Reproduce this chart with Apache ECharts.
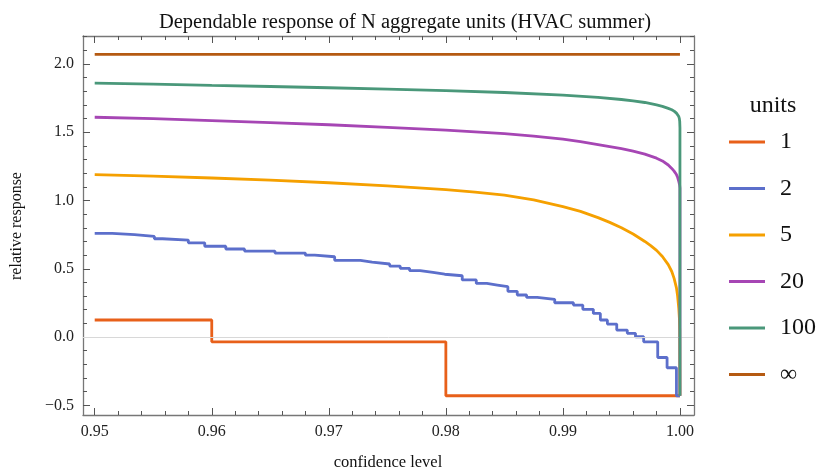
<!DOCTYPE html>
<html><head><meta charset="utf-8">
<script src="https://cdn.jsdelivr.net/npm/echarts@6/dist/echarts.min.js"></script>
<style>html,body{margin:0;padding:0;background:#fff}#c{width:820px;height:473px}</style>
</head><body><div id="c"></div>
<script>
const seriesNames = ['1', '2', '5', '20', '100', '∞'];
const seriesColors = ['#E8601A', '#5C6FCB', '#F5A000', '#A646B4', '#4A987A', '#B55A12'];

const unit1X = [0.95, 0.96, 0.98, 1.0];
const unit1Y = [0.125, -0.035, -0.43, -0.43];

const unit2X = [0.95, 0.9515, 0.9534, 0.9551, 0.9558, 0.958, 0.9594, 0.9612, 0.9628, 0.9654, 0.968, 0.9688, 0.9705, 0.9727, 0.9737, 0.9752, 0.9761, 0.9769, 0.9778, 0.9789, 0.9799, 0.9814, 0.9826, 0.9835, 0.9844, 0.9853, 0.9861, 0.9869, 0.9878, 0.9893, 0.9909, 0.9917, 0.9926, 0.9932, 0.9938, 0.9946, 0.9955, 0.9962, 0.9969, 0.9981, 0.9989, 0.9997, 1.0];
const unit2Y = [0.76, 0.75, 0.737, 0.72, 0.71, 0.69, 0.665, 0.645, 0.63, 0.615, 0.60, 0.588, 0.562, 0.548, 0.535, 0.52, 0.503, 0.487, 0.474, 0.46, 0.449, 0.418, 0.393, 0.381, 0.369, 0.335, 0.308, 0.29, 0.276, 0.251, 0.234, 0.203, 0.173, 0.125, 0.095, 0.051, 0.027, 0.002, -0.035, -0.15, -0.225, -0.43, -0.43];

const unit5X = [0.95, 0.955, 0.96, 0.965, 0.97, 0.975, 0.98, 0.9825, 0.985, 0.9875, 0.99, 0.9915, 0.993, 0.994, 0.995, 0.996, 0.997, 0.9975, 0.998, 0.9985, 0.999, 0.9993, 0.9995, 0.9997, 0.9998, 0.9999, 0.99995, 0.99998, 1.0];
const unit5Y = [1.19, 1.178, 1.165, 1.15, 1.13, 1.107, 1.08, 1.062, 1.04, 1.005, 0.955, 0.92, 0.875, 0.84, 0.80, 0.755, 0.70, 0.67, 0.635, 0.59, 0.53, 0.48, 0.43, 0.36, 0.30, 0.21, 0.14, 0.05, -0.43];

const unit20X = [0.95, 0.955, 0.96, 0.965, 0.97, 0.975, 0.98, 0.985, 0.9875, 0.99, 0.9915, 0.993, 0.994, 0.995, 0.996, 0.997, 0.998, 0.9985, 0.999, 0.9993, 0.9995, 0.9997, 0.9998, 0.9999, 0.99997, 1.0, 1.0];
const unit20Y = [1.61, 1.60, 1.585, 1.57, 1.555, 1.535, 1.515, 1.49, 1.472, 1.45, 1.432, 1.41, 1.395, 1.38, 1.362, 1.34, 1.31, 1.29, 1.26, 1.235, 1.215, 1.19, 1.17, 1.14, 1.115, 1.09, -0.43];

const unit100X = [0.95, 0.955, 0.96, 0.965, 0.97, 0.975, 0.98, 0.985, 0.99, 0.993, 0.995, 0.996, 0.997, 0.998, 0.9985, 0.999, 0.9993, 0.9995, 0.9997, 0.9998, 0.9999, 0.99995, 0.99998, 1.0, 1.0];
const unit100Y = [1.86, 1.852, 1.843, 1.835, 1.826, 1.816, 1.805, 1.791, 1.772, 1.755, 1.74, 1.73, 1.718, 1.70, 1.69, 1.675, 1.665, 1.655, 1.64, 1.63, 1.615, 1.60, 1.58, 1.53, -0.43];

const unitInfX = [0.95, 1.0];
const unitInfY = [2.07, 2.07];

const xMajorTicks = [0.95, 0.96, 0.97, 0.98, 0.99, 1.00];
const xMinorTicks = [0.952, 0.954, 0.956, 0.958, 0.962, 0.964, 0.966, 0.968, 0.972, 0.974, 0.976, 0.978, 0.982, 0.984, 0.986, 0.988, 0.992, 0.994, 0.996, 0.998];
const yMajorTicks = [-0.5, 0.0, 0.5, 1.0, 1.5, 2.0];
const yMinorTicks = [-0.4, -0.3, -0.2, -0.1, 0.1, 0.2, 0.3, 0.4, 0.6, 0.7, 0.8, 0.9, 1.1, 1.2, 1.3, 1.4, 1.6, 1.7, 1.8, 1.9, 2.1, 2.2];

const X_MIN = 0.949, X_MAX = 1.0012, Y_MIN = -0.571, Y_MAX = 2.205;
const SERIF = '"Liberation Serif", "DejaVu Serif", serif';
const FRAME = '#777777', TICK = '#555555';

function pairs(xs, ys) { return xs.map((x, i) => [x, ys[i]]); }

function xAx(pos, ticks, len, label, line) {
  return {
    type: 'value', position: pos, offset: 0, min: X_MIN, max: X_MAX,
    axisLine: { show: line, onZero: false, lineStyle: { color: FRAME, width: 1.3 } },
    axisTick: { show: true, inside: true, length: len, customValues: ticks, lineStyle: { color: TICK, width: 1 } },
    axisLabel: label ? { show: true, customValues: ticks, formatter: v => v.toFixed(2), fontFamily: SERIF, fontSize: 16, color: '#222', margin: 9 } : { show: false },
    splitLine: { show: false }
  };
}
function yAx(pos, ticks, len, label, line) {
  return {
    type: 'value', position: pos, offset: 0, min: Y_MIN, max: Y_MAX,
    axisLine: { show: line, onZero: false, lineStyle: { color: FRAME, width: 1.3 } },
    axisTick: { show: true, inside: true, length: len, customValues: ticks, lineStyle: { color: TICK, width: 1 } },
    axisLabel: label ? { show: true, customValues: ticks, formatter: v => (v < 0 ? '\u2212' + Math.abs(v).toFixed(1) : v.toFixed(1)), fontFamily: SERIF, fontSize: 16, color: '#222', margin: 9 } : { show: false },
    splitLine: { show: false }
  };
}

const dataSets = [pairs(unit1X, unit1Y), pairs(unit2X, unit2Y), pairs(unit5X, unit5Y), pairs(unit20X, unit20Y), pairs(unit100X, unit100Y), pairs(unitInfX, unitInfY)];

const series = [{
  type: 'line', name: '_zero', data: [], z: 1, silent: true,
  markLine: { silent: true, symbol: 'none', label: { show: false }, lineStyle: { color: '#d8d8d8', width: 1, type: 'solid' }, data: [{ yAxis: 0 }] }
}];
seriesNames.forEach((n, i) => {
  series.push({
    type: 'line', name: n, data: dataSets[i], showSymbol: false, symbol: 'none',
    step: i <= 1 ? 'end' : false, z: 2 + i,
    lineStyle: { color: seriesColors[i], width: 2.8 }, itemStyle: { color: seriesColors[i] },
    animation: false
  });
});

const chart = echarts.init(document.getElementById('c'), null, { renderer: 'canvas' });
chart.setOption({
  animation: false,
  backgroundColor: '#fff',
  title: {
    text: 'Dependable response of N aggregate units (HVAC summer)', left: 400, top: 7, textAlign: 'center',
    textStyle: { fontFamily: SERIF, fontSize: 20.5, fontWeight: 'normal', color: '#111' }
  },
  grid: { left: 83, right: 126, top: 36, bottom: 58, containLabel: false },
  xAxis: [xAx('bottom', xMajorTicks, 7, true, true), xAx('bottom', xMinorTicks, 4, false, false), xAx('top', xMajorTicks, 7, false, true), xAx('top', xMinorTicks, 4, false, false)],
  yAxis: [yAx('left', yMajorTicks, 7, true, true), yAx('left', yMinorTicks, 4, false, false), yAx('right', yMajorTicks, 7, false, true), yAx('right', yMinorTicks, 4, false, false)],
  legend: {
    orient: 'vertical', left: 729, top: 129, padding: 0, icon: 'rect', itemWidth: 36, itemHeight: 3, itemGap: 20.5,
    data: seriesNames,
    textStyle: { fontFamily: SERIF, fontSize: 24, lineHeight: 26, color: '#111', padding: [0, 0, 0, 10] }
  },
  graphic: [
    { type: 'text', x: 773, y: 106, style: { text: 'units', font: '24px ' + SERIF, fill: '#111', textAlign: 'center', textVerticalAlign: 'middle' } },
    { type: 'text', x: 17, y: 226, rotation: Math.PI / 2, style: { text: 'relative response', font: '16px ' + SERIF, fill: '#111', textAlign: 'center', textVerticalAlign: 'middle' } },
    { type: 'text', x: 388, y: 463, style: { text: 'confidence level', font: '16.5px ' + SERIF, fill: '#111', textAlign: 'center', textVerticalAlign: 'middle' } }
  ],
  series: series
});
</script></body></html>
